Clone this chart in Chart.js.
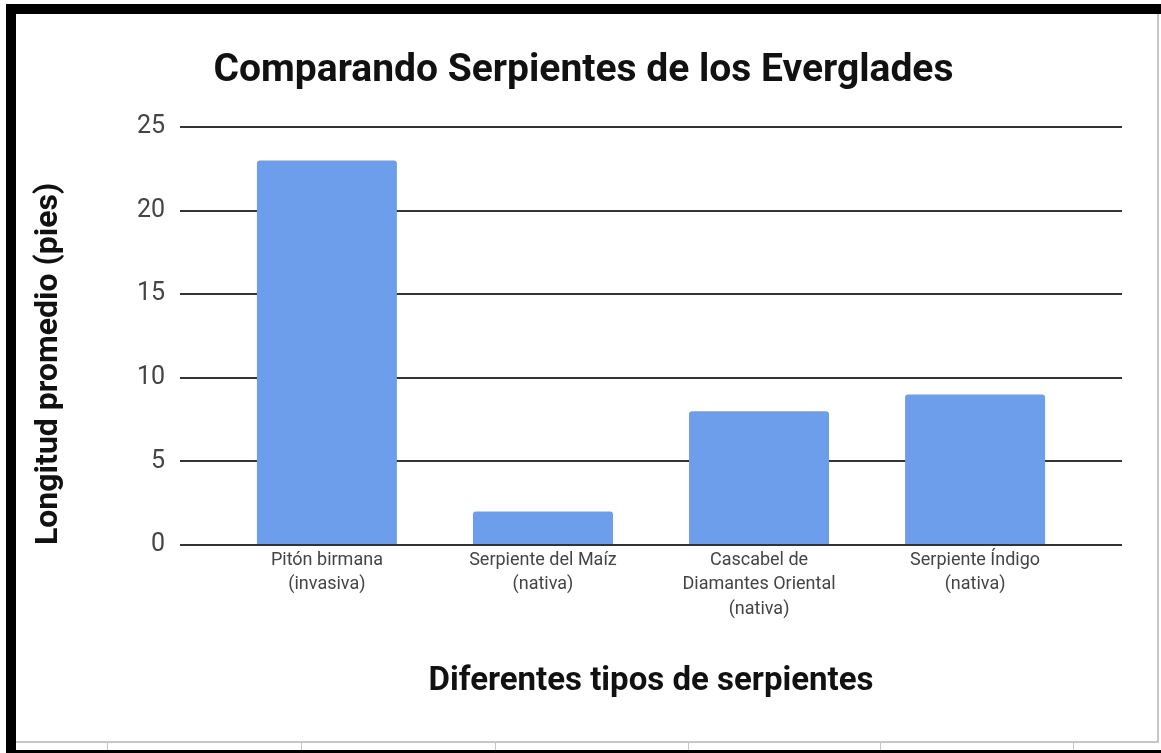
<!DOCTYPE html>
<html><head><meta charset="utf-8">
<script src="https://cdn.jsdelivr.net/npm/chart.js@4.4.1/dist/chart.umd.min.js"></script>
<style>
html,body{margin:0;padding:0;background:#fff;overflow:hidden}
#wrap{position:absolute;left:0;top:0;width:1161px;height:753px}
.b{position:absolute;background:#000;z-index:2}
.g{position:absolute;background:#c6c6c6;z-index:2}
</style></head><body>
<div id="wrap"><canvas id="c"></canvas></div>
<div class="b" style="left:6px;top:4px;width:1155px;height:10px"></div>
<div class="b" style="left:6px;top:4px;width:10px;height:749px"></div>
<div class="b" style="left:6px;top:750px;width:1155px;height:3px"></div>
<div class="g" style="left:1157px;top:14px;width:2px;height:729px"></div>
<div class="g" style="left:16px;top:741px;width:1143px;height:2px"></div>
<div class="g" style="left:107px;top:743px;width:1px;height:7px"></div>
<div class="g" style="left:301px;top:743px;width:1px;height:7px"></div>
<div class="g" style="left:495px;top:743px;width:1px;height:7px"></div>
<div class="g" style="left:688px;top:743px;width:1px;height:7px"></div>
<div class="g" style="left:880px;top:743px;width:1px;height:7px"></div>
<div class="g" style="left:1073px;top:743px;width:1px;height:7px"></div>
<script>
const chartTitle = 'Comparando Serpientes de los Everglades';
const xTitle = 'Diferentes tipos de serpientes';
const yTitle = 'Longitud promedio (pies)';
const categories = ['Pitón birmana (invasiva)', 'Serpiente del Maíz (nativa)', 'Cascabel de Diamantes Oriental (nativa)', 'Serpiente Índigo (nativa)'];
const categoryLines = [['Pitón birmana', '(invasiva)'], ['Serpiente del Maíz', '(nativa)'], ['Cascabel de', 'Diamantes Oriental', '(nativa)'], ['Serpiente Índigo', '(nativa)']];
const lengths = [23, 2, 8, 9];
const yTickValues = [0, 5, 10, 15, 20, 25];

const points = categories.map((c, i) => ({ x: i, y: lengths[i] }));

new Chart(document.getElementById('c'), {
  type: 'bar',
  data: {
    datasets: [{
      label: yTitle,
      data: points,
      backgroundColor: '#6d9eeb',
      borderRadius: 3,
      borderSkipped: 'start',
      categoryPercentage: 1,
      barPercentage: 0.648
    }]
  },
  options: {
    responsive: true,
    maintainAspectRatio: false,
    devicePixelRatio: 1,
    animation: false,
    layout: { padding: { left: 45, right: 39, top: 14, bottom: 48 } },
    plugins: {
      legend: { display: false },
      tooltip: { enabled: false },
      title: {
        display: true,
        text: chartTitle,
        color: '#111',
        font: { family: 'Roboto', size: 39, weight: 'bold', lineHeight: 1 },
        padding: { top: 38, bottom: 36 }
      }
    },
    scales: {
      x: {
        type: 'linear',
        offset: false,
        min: -0.68,
        max: 3.68,
        grid: { display: false, drawTicks: false, offset: false },
        border: { display: false },
        afterBuildTicks: (s) => { s.ticks = categories.map((c, i) => ({ value: i })); },
        afterFit: (s) => { s.height = 160; },
        ticks: {
          autoSkip: false,
          maxRotation: 0,
          minRotation: 0,
          padding: 3,
          color: '#444',
          font: { family: 'Roboto', size: 18, lineHeight: 1.36 },
          callback: (v) => categoryLines[v] || ''
        },
        title: {
          display: true,
          text: xTitle,
          color: '#111',
          font: { family: 'Roboto', size: 33, weight: 'bold', lineHeight: 1 },
          padding: { top: 0, bottom: 7 }
        }
      },
      y: {
        min: 0,
        max: 25,
        afterBuildTicks: (s) => { s.ticks = yTickValues.map(v => ({ value: v })); },
        afterFit: (s) => { s.width = 135; },
        grid: { color: '#333', lineWidth: 2, drawTicks: false },
        border: { display: false },
        ticks: {
          padding: 15,
          color: '#444',
          font: { family: 'Roboto', size: 25 }
        },
        title: {
          display: true,
          text: yTitle,
          align: 'start',
          color: '#111',
          font: { family: 'Roboto', size: 32, weight: 'bold', lineHeight: 1 },
          padding: { top: -12, bottom: 0 }
        }
      }
    }
  }
});
</script>
</body></html>
